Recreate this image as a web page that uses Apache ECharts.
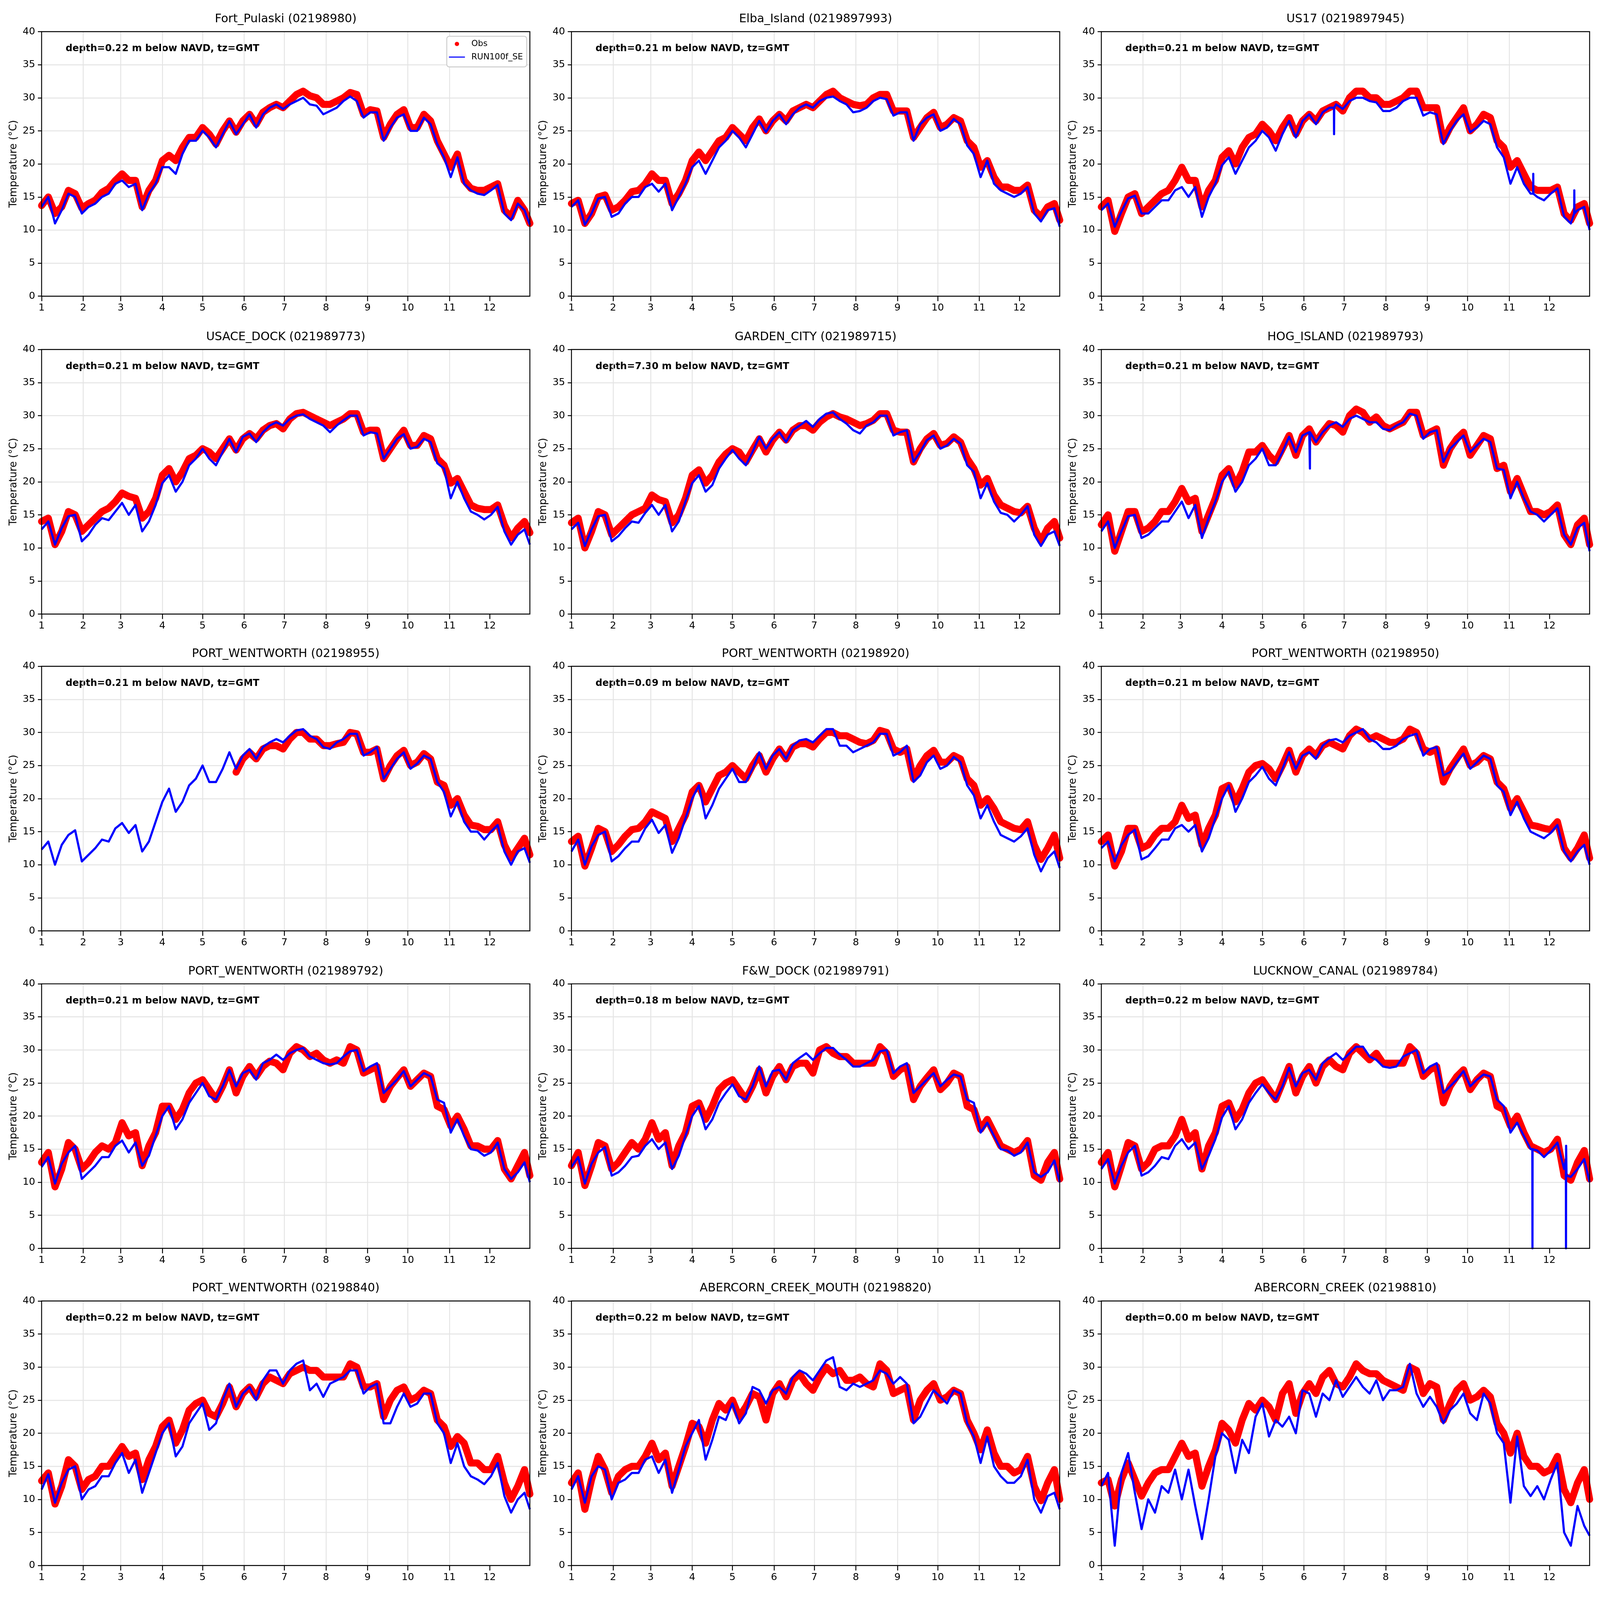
<!DOCTYPE html>
<html>
<head>
<meta charset="utf-8">
<title>Water temperature: Obs vs RUN100f_SE</title>
<script src="https://cdn.jsdelivr.net/npm/echarts@6.0.0/dist/echarts.min.js"></script>
<style>
html,body{margin:0;padding:0;background:#fff;overflow:hidden;}
#chart{width:6000px;height:4500px;}
</style>
</head>
<body>
<div id="chart"></div>
<script>
// ---- x grid (day of year) and month ticks ----
const days = [0,5,10,15,20,25,30,35,40,45,50,55,60,65,70,75,80,85,90,95,100,105,110,115,120,125,130,135,140,145,150,155,160,165,170,175,180,185,190,195,200,205,210,215,220,225,230,235,240,245,250,255,260,265,270,275,280,285,290,295,300,305,310,315,320,325,330,335,340,345,350,355,360,364];
const monthStartDays = [0,31,59,90,120,151,181,212,243,273,304,334];
const monthLabels = ['1','2','3','4','5','6','7','8','9','10','11','12'];
const yTicks = [0,5,10,15,20,25,30,35,40];

const stationTitles = ['Fort_Pulaski (02198980)','Elba_Island (0219897993)','US17 (0219897945)',
  'USACE_DOCK (021989773)','GARDEN_CITY (021989715)','HOG_ISLAND (021989793)',
  'PORT_WENTWORTH (02198955)','PORT_WENTWORTH (02198920)','PORT_WENTWORTH (02198950)',
  'PORT_WENTWORTH (021989792)','F&W_DOCK (021989791)','LUCKNOW_CANAL (021989784)',
  'PORT_WENTWORTH (02198840)','ABERCORN_CREEK_MOUTH (02198820)','ABERCORN_CREEK (02198810)'];
const depthNotes = ['depth=0.22 m below NAVD, tz=GMT','depth=0.21 m below NAVD, tz=GMT','depth=0.21 m below NAVD, tz=GMT',
  'depth=0.21 m below NAVD, tz=GMT','depth=7.30 m below NAVD, tz=GMT','depth=0.21 m below NAVD, tz=GMT',
  'depth=0.21 m below NAVD, tz=GMT','depth=0.09 m below NAVD, tz=GMT','depth=0.21 m below NAVD, tz=GMT',
  'depth=0.21 m below NAVD, tz=GMT','depth=0.18 m below NAVD, tz=GMT','depth=0.22 m below NAVD, tz=GMT',
  'depth=0.22 m below NAVD, tz=GMT','depth=0.22 m below NAVD, tz=GMT','depth=0.00 m below NAVD, tz=GMT'];

// ---- values (deg C), one value per entry of `days` ----
const obsFortPulaski = [13.7,15.0,12.5,13.5,16.0,15.5,13.3, 14.0,14.5,15.7,16.3,17.5, 18.5,17.5,17.5,13.5,16.0,17.5, 20.5,21.3,20.5,22.5,24.0,24.0, 25.5,24.5,23.0,25.0,26.5,24.8,26.5, 27.5,26.0,27.8,28.5,29.0,28.5, 29.5,30.5,31.0,30.3,30.0,29.0, 29.0,29.5,30.0,30.8,30.5,27.5, 28.2,28.0,24.0,26.0,27.5,28.2, 25.5,25.5,27.5,26.5,23.5,21.5, 19.5,21.5,17.5,16.3,16.0,16.0, 16.5,17.0,13.0,12.0,14.5,13.0,11.0];
const modFortPulaski = [13.5,15.0,11.0,13.0,15.5,15.0,12.5, 13.5,14.0,15.0,15.5,17.0, 17.5,16.5,17.0,13.0,15.5,17.0, 19.5,19.5,18.5,21.5,23.5,23.5, 25.0,24.0,22.5,24.5,26.5,24.5,26.0, 27.5,25.5,27.5,28.5,29.0,28.3, 29.0,29.5,30.0,29.0,28.8,27.5, 28.0,28.5,29.5,30.2,29.5,27.0, 27.8,27.8,23.5,25.5,27.0,27.5, 25.0,25.0,27.0,26.0,23.0,21.0, 18.0,21.0,17.0,16.0,15.5,15.3, 16.0,16.8,12.5,11.5,14.0,13.0,10.8];

const obsElba = [14.0,14.5,11.0,12.5,15.0,15.3,13.0, 13.5,14.5,15.8,16.0,17.0, 18.5,17.5,17.5,14.0,15.5,17.5, 20.5,21.8,20.5,22.0,23.5,24.0, 25.5,24.5,23.5,25.5,26.8,25.0,26.5, 27.5,26.5,28.0,28.5,29.0,28.5, 29.5,30.5,31.0,30.0,29.5,29.0, 28.8,29.0,30.0,30.5,30.5,28.0, 28.0,28.0,24.0,25.5,27.0,27.8, 25.5,26.0,27.0,26.5,23.5,22.5, 19.5,20.5,18.0,16.5,16.5,16.0, 16.0,16.8,13.0,12.0,13.5,14.0,11.5];
const modElba = [13.5,14.5,10.8,12.5,14.8,15.0,12.0, 12.5,14.0,15.0,15.0,16.5, 17.0,15.8,17.0,13.0,15.0,17.0, 19.5,20.5,18.5,20.5,22.5,23.5, 25.0,24.0,22.5,24.5,26.5,24.8,26.5, 27.5,26.0,27.5,28.5,29.0,28.5, 29.5,30.0,30.2,29.5,29.0,27.8, 28.0,28.5,29.5,30.0,29.8,27.3, 27.8,27.8,23.5,26.0,27.0,27.5, 25.0,25.5,26.8,26.0,22.8,21.5, 18.0,20.5,17.0,16.0,15.5,15.0, 15.5,16.5,12.5,11.3,13.0,13.3,10.5];

const obsUS17 = [13.5,14.5,9.8,12.5,15.0,15.5,12.5, 13.5,14.5,15.5,16.0,17.5, 19.5,17.5,17.5,13.5,16.0,17.5, 21.0,22.0,20.0,22.5,24.0,24.5, 26.0,25.0,23.5,25.5,27.0,24.5,26.5, 27.5,26.5,28.0,28.5,29.0,28.0, 30.0,31.0,31.0,30.0,30.0,29.0, 29.0,29.5,30.0,31.0,31.0,28.5, 28.5,28.5,23.5,25.5,27.0,28.5, 25.0,26.0,27.5,27.0,23.5,22.5, 19.5,20.5,18.5,16.5,16.0,16.0, 16.0,16.5,12.5,11.5,13.5,14.0,11.0];
const modUS17 = [13.0,14.0,10.5,12.8,14.8,15.2,12.5, 12.5,13.5,14.5,14.5,16.0, 16.5,15.0,16.5,12.0,15.0,17.0, 19.8,21.0,18.5,20.5,22.5,23.5, 25.0,24.0,22.0,24.5,26.5,24.0,26.5, 27.5,26.0,27.8,28.5,29.0,28.3, 29.5,30.0,30.0,29.5,29.3,28.0, 28.0,28.5,29.5,30.0,30.0,27.3, 27.8,27.5,23.0,25.0,26.5,27.5, 24.8,25.5,26.5,26.0,22.5,21.0, 17.0,19.5,17.0,15.5,15.0,14.5, 15.5,16.3,12.0,11.0,13.0,13.5,10.0];
const modUS17Spikes = [[173.4,28.5],[173.5,24.5],[173.6,28.5],[321.9,15.5],[322.0,18.5],[322.1,15.5],[352.5,12.5],[352.6,16.0],[352.7,12.5]];

const obsUSACE = [14.0,14.5,10.5,12.5,15.5,15.0,12.5, 13.5,14.5,15.5,16.0,17.0, 18.3,17.8,17.5,14.5,15.5,17.5, 21.0,22.0,20.0,21.5,23.5,24.0, 25.0,24.5,23.5,25.0,26.5,24.8,26.5, 27.3,26.5,27.8,28.5,28.8,28.0, 29.5,30.3,30.5,30.0,29.5,29.0, 28.5,29.0,29.5,30.3,30.3,27.5, 27.8,27.8,23.5,25.0,26.5,27.8, 25.5,25.5,27.0,26.5,23.5,22.5, 19.8,20.5,18.5,16.5,16.0,15.8, 15.8,16.5,13.5,11.5,13.0,14.0,12.3];
const modUSACE = [12.8,14.0,10.5,13.0,14.8,15.0,11.0, 12.0,13.5,14.5,14.2,15.5, 16.8,15.0,16.5,12.5,14.0,16.5, 19.8,21.0,18.5,20.0,22.5,23.5, 25.0,23.5,22.5,24.5,26.5,24.5,26.8, 27.3,26.0,27.5,28.5,29.0,28.5, 29.5,30.0,30.2,29.5,29.0,28.5, 27.5,28.5,29.3,30.0,30.0,27.0, 27.5,27.3,23.5,25.0,26.5,27.2, 25.0,25.3,26.5,26.0,22.8,22.0, 17.5,20.0,17.5,15.5,15.0,14.3, 15.0,16.2,12.5,10.5,12.0,12.8,10.5];

const obsGardenCity = [13.8,14.5,10.0,12.5,15.5,15.0,12.0, 13.0,14.0,15.0,15.5,16.0, 18.0,17.3,17.0,13.8,15.0,17.5, 21.0,21.8,19.8,21.0,23.0,24.2, 25.0,24.5,23.0,24.8,26.5,24.5,26.3, 27.5,26.3,27.8,28.5,28.5,27.8, 29.0,29.8,30.3,29.8,29.5,29.0, 28.5,28.8,29.3,30.3,30.3,27.8, 27.5,27.5,23.0,25.0,26.5,27.3, 25.5,25.8,26.8,26.0,23.5,22.0, 19.5,20.5,18.0,16.5,16.0,15.5, 15.3,16.3,13.0,11.0,13.0,14.0,11.5];
const modGardenCity = [12.8,13.8,10.3,12.8,14.8,15.0,11.0, 11.8,13.0,14.0,13.8,15.3, 16.5,15.0,16.5,12.5,14.0,17.0, 19.8,21.0,18.5,19.5,22.0,23.5, 24.8,23.5,22.5,24.5,26.8,25.0,26.5, 27.5,26.0,27.8,28.5,29.2,28.3, 29.5,30.3,30.5,29.5,28.8,27.8, 27.3,28.5,29.0,30.0,30.0,27.0, 27.5,27.8,23.0,24.5,26.3,27.0, 25.0,25.5,26.5,25.8,22.5,21.5, 17.5,19.8,17.0,15.3,15.0,14.0, 15.0,16.3,12.0,10.3,12.0,12.5,10.3];

const obsHogIsland = [13.5,15.0,9.5,12.5,15.5,15.5,12.5, 13.0,14.0,15.5,15.5,17.0, 19.0,17.0,17.5,12.5,15.0,17.5, 21.0,22.0,19.5,21.5,24.5,24.5, 25.5,24.0,23.0,25.0,27.0,24.0,27.0, 28.0,26.0,27.5,28.8,28.5,27.5, 30.0,31.0,30.5,29.0,29.8,28.5, 28.0,28.5,29.0,30.5,30.5,27.0, 27.5,28.0,22.5,25.0,26.5,27.5, 24.0,25.5,27.0,26.5,22.0,22.5, 18.5,20.5,18.0,15.5,15.5,15.0, 15.5,16.5,12.0,10.5,13.5,14.5,10.5];
const modHogIsland = [12.5,14.0,10.0,12.5,14.8,15.0,11.5, 12.0,13.0,14.0,14.0,15.5, 17.0,14.5,16.5,11.5,14.5,17.0, 20.0,21.5,18.5,20.0,22.5,23.5, 25.0,22.5,22.5,24.5,26.8,24.5,27.0, 27.5,26.0,27.5,28.5,29.0,28.3, 29.5,30.0,29.5,29.0,29.0,28.0, 27.8,28.5,29.0,30.3,30.0,26.5, 27.5,27.8,23.0,25.0,26.0,27.0, 24.5,25.5,26.5,26.0,22.0,21.8, 17.5,20.0,17.5,15.5,15.0,14.0, 15.0,16.0,12.0,10.5,13.0,13.8,9.5];
const modHogIslandSpikes = [[155.4,27.5],[155.5,22.0],[155.6,27.5]];

const obsPW955 = [null,null,null,null,null,null,null, null,null,null,null,null, null,null,null,null,null,null, null,null,null,null,null,null, null,null,null,null,null,24.0,26.0, 27.0,26.0,27.5,28.0,28.0,27.5, 29.0,30.0,30.0,29.0,29.0,28.0, 28.0,28.3,28.5,30.0,29.8,27.0, 27.0,27.5,23.0,25.0,26.5,27.3, 25.0,25.5,26.8,26.0,22.5,22.0, 19.0,20.0,17.5,16.0,15.8,15.3, 15.3,16.5,13.0,11.0,12.5,14.0,11.5];
const modPW955 = [12.3,13.5,10.0,13.0,14.5,15.2,10.5, 11.5,12.5,13.8,13.5,15.5, 16.3,14.8,16.0,12.0,13.5,16.5, 19.5,21.5,18.0,19.5,22.0,23.0, 25.0,22.5,22.5,24.5,27.0,24.5,26.5, 27.5,26.0,27.8,28.5,29.0,28.5, 29.5,30.3,30.5,29.5,29.0,27.8, 27.5,28.5,29.0,29.8,29.8,26.5, 27.0,27.8,23.0,24.5,26.0,27.0, 24.5,25.3,26.5,26.0,22.5,21.0, 17.3,19.5,16.5,15.0,15.0,13.8, 15.0,16.0,12.0,10.0,12.0,12.5,10.3];

const obsPW920 = [13.5,14.3,9.8,12.5,15.5,15.0,12.0, 13.0,14.3,15.3,15.5,16.5, 18.0,17.5,17.0,13.5,15.5,17.5, 21.0,22.0,19.5,21.5,23.5,24.0, 25.0,24.0,23.0,25.0,26.5,24.0,26.0, 27.5,26.0,27.8,28.3,28.3,27.8, 29.0,30.0,30.0,29.5,29.5,29.0, 28.5,28.3,28.8,30.3,30.0,27.5, 27.0,27.5,23.0,25.0,26.5,27.3, 25.5,25.5,26.5,26.0,23.0,22.0, 19.0,20.0,18.5,16.5,16.0,15.5, 15.3,16.5,13.0,10.8,12.5,14.5,11.0];
const modPW920 = [12.0,13.8,10.0,12.8,14.5,15.0,10.5, 11.3,12.5,13.5,13.5,15.5, 16.8,14.8,16.0,11.8,14.0,17.0, 20.0,22.0,17.0,19.0,21.5,23.0, 24.5,22.5,22.5,24.5,27.0,24.5,26.5, 27.5,26.0,28.0,28.8,29.0,28.5, 29.5,30.5,30.5,28.0,28.0,27.0, 27.5,28.0,28.5,29.8,29.8,26.5, 27.0,28.0,22.5,23.5,25.5,26.5, 24.5,25.0,26.3,25.5,22.0,20.5, 17.0,19.0,16.5,14.5,14.0,13.5, 14.3,15.5,11.5,9.0,11.0,12.0,9.5];

const obsPW950 = [13.5,14.5,9.8,12.0,15.5,15.5,12.5, 13.0,14.5,15.5,15.5,16.5, 19.0,17.0,17.5,13.0,15.5,17.5, 21.5,22.0,19.5,21.5,24.0,25.0, 25.3,24.5,23.0,25.0,27.3,24.0,26.5, 27.5,26.5,28.0,28.5,28.0,27.5, 29.5,30.5,30.0,29.0,29.5,29.0, 28.5,28.5,29.0,30.5,30.0,27.5, 27.0,27.5,22.5,24.5,26.0,27.5, 25.0,25.5,26.5,26.0,22.5,21.5, 18.5,20.0,18.0,16.0,15.8,15.5, 15.3,16.5,12.5,11.0,12.5,14.5,11.0];
const modPW950 = [12.5,13.5,10.5,13.0,14.5,15.3,10.8, 11.3,12.5,13.8,13.8,15.5, 16.0,15.0,16.0,12.0,14.0,17.0, 20.0,22.0,18.0,20.0,22.5,23.5, 24.8,23.0,22.0,24.5,27.0,24.5,26.5, 27.0,26.0,28.0,28.8,29.0,28.5, 29.5,30.0,30.5,29.0,28.5,27.5, 27.5,28.0,29.0,29.5,29.8,26.5, 27.5,27.8,23.5,24.0,25.5,26.8, 24.5,25.5,26.5,26.0,22.0,21.0, 17.5,19.5,17.0,15.0,14.5,14.0, 14.8,16.0,12.0,10.5,12.0,13.0,10.0];

const obsPW792 = [13.0,14.5,9.3,12.0,16.0,15.0,12.0, 13.0,14.5,15.5,15.0,16.0, 19.0,17.0,17.5,12.5,15.5,17.5, 21.5,21.5,19.5,21.0,23.5,25.0, 25.5,24.0,22.5,24.5,27.0,23.5,26.0, 27.5,26.0,27.5,28.3,28.0,27.0, 29.5,30.5,30.0,29.0,29.5,28.5, 28.0,28.5,28.0,30.5,30.0,26.5, 27.0,27.5,22.5,24.5,25.8,27.0, 24.5,25.5,26.5,26.0,21.5,21.0, 18.5,20.0,18.0,15.5,15.5,15.0, 15.0,16.3,12.0,10.5,12.5,14.5,11.0];
const modPW792 = [12.3,13.8,9.8,12.8,14.5,15.5,10.5, 11.5,12.5,13.8,13.8,15.5, 16.3,14.5,16.0,12.5,14.0,17.0, 20.0,21.5,18.0,19.5,22.0,23.5, 25.0,23.0,22.5,24.5,27.0,24.5,26.5, 27.0,25.5,28.0,28.5,29.3,28.5, 29.5,30.0,30.3,29.0,28.5,28.0, 27.8,28.0,29.0,29.8,30.0,26.8, 27.5,28.0,23.5,24.5,25.5,26.8, 24.5,25.5,26.5,26.0,22.5,22.0, 17.5,19.5,17.0,15.0,14.8,14.0, 14.5,16.0,12.0,10.5,11.5,13.0,10.0];

const obsFWDock = [12.5,14.5,9.5,12.5,16.0,15.5,12.0, 13.0,14.5,16.0,15.0,16.5, 19.0,16.5,17.5,12.5,15.5,17.5, 21.5,22.0,19.5,21.5,24.0,25.0, 25.5,24.0,22.5,24.5,27.0,23.5,26.0, 27.5,25.5,27.5,28.0,28.0,26.5, 30.0,30.5,29.5,29.0,29.0,28.0, 28.0,28.0,28.0,30.5,29.5,26.0, 27.0,27.5,22.5,24.5,25.8,27.0, 24.0,25.0,26.5,26.0,21.5,21.0, 18.0,19.5,17.5,15.5,15.0,14.5, 15.0,16.3,11.0,10.3,13.0,14.5,10.5];
const modFWDock = [12.3,13.8,9.8,12.8,14.5,15.3,11.0, 11.5,12.5,13.8,14.0,15.5, 16.5,15.0,16.0,12.0,14.0,17.0, 20.0,21.5,18.0,19.5,22.0,23.5, 24.8,23.0,22.5,24.5,27.5,24.5,26.8, 27.0,25.5,28.0,28.8,29.5,28.5, 29.5,30.3,30.3,29.3,28.5,27.5, 27.5,28.0,28.5,29.8,30.0,26.5, 27.5,28.0,23.5,24.5,25.5,26.5, 24.5,25.5,26.3,26.0,22.5,22.0, 17.5,19.0,17.0,15.0,14.8,14.0, 14.5,16.0,11.5,10.8,11.5,13.3,10.0];

const obsLucknow = [13.0,14.5,9.3,12.5,16.0,15.5,12.0, 13.0,15.0,15.5,15.5,17.0, 19.5,16.5,17.5,12.0,15.5,17.5, 21.5,22.0,19.5,21.0,23.5,25.0, 25.5,24.0,22.5,25.0,27.5,23.5,26.0, 27.5,25.0,27.5,28.5,27.5,27.0, 29.5,30.5,29.5,28.5,29.5,28.0, 28.0,28.0,28.0,30.5,29.5,26.0, 27.0,27.5,22.0,24.5,26.0,27.0, 24.0,25.5,26.5,26.0,21.5,21.0, 18.5,20.0,17.5,15.5,15.0,14.5, 15.0,16.5,11.0,10.3,13.0,14.8,10.5];
const modLucknow = [12.0,13.5,9.8,12.5,14.5,15.5,11.0, 11.5,12.5,13.8,13.5,15.5, 16.5,15.0,16.0,12.0,14.0,16.5, 19.8,21.5,18.0,19.5,22.0,23.5, 24.8,23.5,22.5,24.5,27.3,24.5,26.5, 27.0,25.5,28.0,28.8,29.5,28.5, 29.5,30.5,30.5,29.0,28.5,27.5, 27.3,27.5,29.0,29.5,30.0,26.5, 27.5,28.0,23.5,24.5,25.5,26.8, 24.5,25.5,26.3,26.0,22.5,21.5, 17.5,19.0,17.0,15.0,14.8,13.8, 14.8,16.0,12.0,10.8,12.0,13.5,10.0];
const modLucknowSpikes = [[321.3,15.0],[321.4,0.0],[321.5,15.0],[346.3,13.5],[346.4,0.0],[346.5,15.5],[346.8,11.0]];

const obsPW840 = [12.8,14.0,9.3,12.0,16.0,15.0,11.5, 13.0,13.5,15.0,15.0,16.5, 18.0,16.5,17.0,13.0,16.0,18.0, 21.0,22.0,18.5,20.5,23.5,24.5, 25.0,23.0,22.5,24.5,27.0,24.0,26.0, 27.0,25.5,27.5,28.5,28.0,27.5, 29.0,29.5,30.0,29.5,29.5,28.5, 28.5,28.5,28.5,30.5,30.0,27.0, 27.0,27.5,22.5,25.0,26.5,27.0, 25.0,25.5,26.5,26.0,22.0,21.0, 18.0,19.5,18.5,15.5,15.5,14.5, 14.5,16.5,12.5,10.0,12.0,14.5,10.8];
const modPW840 = [11.5,13.8,9.5,12.5,14.5,15.0,10.0, 11.5,12.0,13.5,13.5,15.5, 17.0,14.0,16.0,11.0,14.0,17.0, 20.0,21.5,16.5,18.0,21.5,23.0, 24.5,20.5,21.5,25.0,27.5,24.0,26.0, 27.0,25.0,28.0,29.5,29.5,27.5, 29.5,30.5,31.0,26.5,27.5,25.5, 27.5,28.0,28.5,29.5,29.5,26.0, 27.0,27.5,21.5,21.5,24.0,26.0, 24.0,24.5,26.0,26.0,21.5,20.0, 15.5,18.5,15.0,13.5,13.0,12.3, 13.5,15.5,10.5,8.0,10.0,11.0,8.5];

const obsAbercornMouth = [12.5,14.0,8.5,13.0,16.5,14.5,11.0, 13.5,14.5,15.0,15.0,16.5, 18.5,16.0,17.0,12.0,15.0,18.0, 21.5,21.0,18.5,22.0,24.5,23.5, 25.0,22.5,24.0,26.0,25.5,22.0,26.0, 27.5,25.5,28.0,29.0,27.5,26.5, 28.5,30.0,29.0,29.5,28.0,28.0, 28.5,27.5,27.0,30.5,29.5,26.0, 26.5,27.0,22.0,25.0,26.5,27.5, 25.0,25.5,26.5,26.0,22.0,20.0, 17.5,20.5,17.0,15.0,15.0,14.0, 14.5,16.5,12.0,9.8,12.5,14.5,10.0];
const modAbercornMouth = [11.5,13.5,9.5,13.5,15.0,14.5,10.0, 12.5,13.0,14.0,14.0,16.0, 16.5,14.0,16.0,11.0,14.5,18.0, 20.0,22.0,16.0,19.0,22.5,22.0, 24.5,21.5,23.0,27.0,26.5,24.5,26.5, 27.0,26.0,28.5,29.5,29.0,28.0, 29.5,31.0,31.5,27.0,26.5,27.5, 27.0,27.5,28.0,29.5,29.0,27.5, 28.5,27.5,21.5,22.5,24.5,26.5, 25.5,24.5,26.5,26.0,21.5,19.5, 15.5,19.5,15.0,13.5,12.5,12.5, 13.5,16.0,10.0,8.0,10.5,11.0,8.5];

const obsAbercorn = [12.5,13.0,9.0,13.0,15.5,13.0,10.5, 12.5,14.0,14.5,14.5,16.5, 18.5,16.5,17.0,12.0,15.0,17.5, 21.5,20.5,18.5,22.0,24.5,23.5, 25.0,24.0,22.0,26.0,27.5,23.0,26.0, 27.5,26.0,28.5,29.5,27.5,27.0, 28.5,30.5,29.5,29.0,29.0,28.0, 27.5,27.0,26.5,30.0,29.5,26.0, 27.5,27.0,22.0,24.5,26.5,27.5, 25.0,25.5,26.5,25.5,21.5,20.0, 17.0,20.0,16.5,15.0,15.0,14.0, 14.5,16.5,11.5,9.5,12.5,14.5,10.0];
const modAbercorn = [12.0,14.0,3.0,14.0,17.0,11.0,5.5, 10.0,8.0,12.0,11.0,14.5, 10.0,14.5,9.0,4.0,10.0,16.5, 20.0,19.0,14.0,19.0,17.0,22.5, 24.5,19.5,22.0,21.0,22.5,20.0,26.5, 26.0,22.5,26.0,25.0,28.0,25.5, 27.0,28.5,27.0,26.0,28.0,25.0, 26.5,26.5,27.0,30.5,26.0,24.0, 25.5,24.0,21.5,23.5,24.5,26.0, 23.0,22.0,26.0,24.5,20.0,18.5, 9.5,19.5,12.0,10.5,12.0,10.0, 13.0,15.5,5.0,3.0,9.0,6.0,4.5];

const obsSeries = [obsFortPulaski, obsElba, obsUS17, obsUSACE, obsGardenCity, obsHogIsland, obsPW955, obsPW920, obsPW950, obsPW792, obsFWDock, obsLucknow, obsPW840, obsAbercornMouth, obsAbercorn];
const modSeries = [modFortPulaski, modElba, modUS17, modUSACE, modGardenCity, modHogIsland, modPW955, modPW920, modPW950, modPW792, modFWDock, modLucknow, modPW840, modAbercornMouth, modAbercorn];
const modSpikes = {2: modUS17Spikes, 5: modHogIslandSpikes, 11: modLucknowSpikes};

// ---- layout: designed on a 6000x4500 canvas, stretched to fill the viewport ----
const vw = window.innerWidth || 6000, vh = window.innerHeight || 4500;
const SX = vw / 6000, SY = vh / 4500, SF = Math.sqrt(SX * SY);
const X = v => v * SX, Y = v => v * SY, F = v => v * SF;
const FONT = 'DejaVu Sans';
const colLeft = [156, 2143, 4130];
const rowTop = [89, 983, 1874, 2767, 3659];
const plotW = 1831, plotH = 744;

const chartDiv = document.getElementById('chart');
chartDiv.style.width = vw + 'px';
chartDiv.style.height = vh + 'px';

const grids = [], xAxes = [], yAxes = [], series = [], graphics = [];
for (let i = 0; i < 15; i++) {
  const r = Math.floor(i / 3), c = i % 3;
  const left = colLeft[c], top = rowTop[r];
  grids.push({left: X(left), top: Y(top), width: X(plotW), height: Y(plotH), show: true, z: 10,
    borderColor: '#000', borderWidth: F(3), backgroundColor: 'transparent'});
  xAxes.push({type: 'value', gridIndex: i, min: 0, max: 364,
    axisLine: {show: false},
    axisTick: {show: true, length: Y(14), lineStyle: {color: '#000', width: F(3)}, customValues: monthStartDays},
    axisLabel: {customValues: monthStartDays, fontSize: F(32), fontFamily: FONT, color: '#000', margin: Y(20),
      formatter: v => monthLabels[monthStartDays.indexOf(v)]},
    splitLine: {show: true, showMinLine: false, showMaxLine: false, lineStyle: {color: '#e4e4e4', width: F(3)}}});
  yAxes.push({type: 'value', gridIndex: i, min: 0, max: 40, interval: 5,
    axisLine: {show: false},
    axisTick: {show: true, length: X(14), lineStyle: {color: '#000', width: F(3)}, customValues: yTicks},
    axisLabel: {customValues: yTicks, fontSize: F(32), fontFamily: FONT, color: '#000', margin: X(24)},
    splitLine: {show: true, showMinLine: false, showMaxLine: false, lineStyle: {color: '#e4e4e4', width: F(3)}},
    name: 'Temperature (°C)', nameLocation: 'middle', nameGap: X(86),
    nameTextStyle: {fontSize: F(33), fontFamily: FONT, color: '#000'}});

  const obsData = days.map((d, k) => [d, obsSeries[i][k] == null ? '-' : obsSeries[i][k]]);
  let modData = days.map((d, k) => [d, modSeries[i][k]]);
  if (modSpikes[i]) {
    modData = modData.concat(modSpikes[i].map(p => [p[0], p[1]])).sort((a, b) => a[0] - b[0]);
  }
  series.push({type: 'line', name: 'Obs', xAxisIndex: i, yAxisIndex: i, data: obsData,
    symbol: 'none', showSymbol: false, silent: true, animation: false, connectNulls: false,
    itemStyle: {color: '#ff0000'},
    lineStyle: {color: '#ff0000', width: F(23), join: 'round', cap: 'round'}});
  series.push({type: 'line', name: 'RUN100f_SE', xAxisIndex: i, yAxisIndex: i, data: modData,
    symbol: 'none', showSymbol: false, silent: true, animation: false,
    itemStyle: {color: '#0000ff'},
    lineStyle: {color: '#0000ff', width: F(7), join: 'round'}});

  graphics.push({type: 'text', x: X(left + plotW / 2), y: Y(top - 35), silent: true,
    style: {text: stationTitles[i], fontSize: F(38), fontFamily: FONT, fill: '#000',
      align: 'center', verticalAlign: 'middle'}});
  graphics.push({type: 'text', x: X(left + 90), y: Y(top + 48), silent: true,
    style: {text: depthNotes[i], fontSize: F(31), fontWeight: 'bold', fontFamily: FONT, fill: '#000',
      align: 'left', verticalAlign: 'middle'}});
}

const chart = echarts.init(chartDiv, null, {renderer: 'canvas'});
chart.setOption({
  backgroundColor: '#ffffff',
  animation: false,
  grid: grids,
  xAxis: xAxes,
  yAxis: yAxes,
  series: series,
  graphic: graphics,
  legend: {show: true, orient: 'vertical', right: X(6000 - 1975), top: Y(102),
    itemWidth: X(60), itemHeight: F(14), itemGap: Y(14), padding: [Y(10), X(14), Y(16), X(8)],
    borderColor: '#cccccc', borderWidth: F(3), borderRadius: F(8), backgroundColor: '#ffffff',
    selectedMode: false,
    textStyle: {fontSize: F(27), fontFamily: FONT, color: '#000', padding: [0, 0, 0, X(17)]},
    data: [{name: 'Obs', icon: 'circle'},
           {name: 'RUN100f_SE', icon: 'path://M0,0L60,0L60,4L0,4Z', symbolKeepAspect: true}]}
});
</script>
</body>
</html>
